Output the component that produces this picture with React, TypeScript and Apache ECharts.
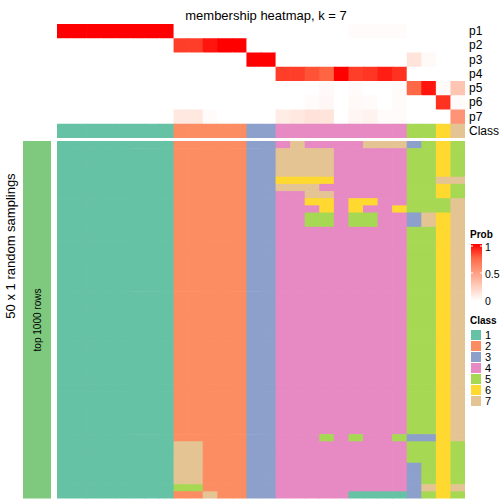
import React, { useEffect, useRef } from 'react';
import * as echarts from 'echarts';

const FONT = '"Liberation Sans", Arial, Helvetica, sans-serif';

const columns = Array.from({ length: 28 }, (_, i) => String(i + 1));
const topRowLabels = ['p1', 'p2', 'p3', 'p4', 'p5', 'p6', 'p7', 'Class'];
const classLabels = ['1', '2', '3', '4', '5', '6', '7'];
const classColors = ['#66C2A5', '#FC8D62', '#8DA0CB', '#E78AC3', '#A6D854', '#FFD92F', '#E5C494'];
const probColors = ['#FFFFFF', '#FFCFBF', '#FF9E81', '#FF6846', '#FF0000'];
const probTicks = ['1', '0.5', '0'];

// membership probabilities, 28 columns each
const p1 = [1, 1, 1, 1, 1, 1, 1, 1, 0, 0, 0, 0, 0, 0, 0, 0, 0, 0, 0, 0, 0.02, 0.02, 0.02, 0.02, 0, 0, 0, 0];
const p2 = [0, 0, 0, 0, 0, 0, 0, 0, 0.85, 0.85, 0.95, 1, 1, 0, 0, 0, 0, 0, 0, 0, 0, 0, 0, 0, 0, 0, 0, 0];
const p3 = [0, 0, 0, 0, 0, 0, 0, 0, 0, 0, 0, 0, 0, 1, 1, 0, 0, 0, 0, 0, 0, 0, 0, 0, 0.14, 0.03, 0, 0];
const p4 = [0, 0, 0, 0, 0, 0, 0, 0, 0, 0, 0, 0, 0, 0, 0, 0.85, 0.85, 0.8, 0.76, 1, 0.85, 0.87, 0.93, 0.88, 0, 0, 0, 0];
const p5 = [0, 0, 0, 0, 0, 0, 0, 0, 0, 0, 0, 0, 0, 0, 0, 0, 0, 0, 0.03, 0, 0.02, 0, 0, 0.02, 0.75, 0.95, 0.03, 0.3];
const p6 = [0, 0, 0, 0, 0, 0, 0, 0, 0, 0, 0, 0, 0, 0, 0, 0, 0, 0.02, 0.04, 0, 0.03, 0.02, 0, 0.02, 0, 0, 0.88, 0.02];
const p7 = [0, 0, 0, 0, 0, 0, 0, 0, 0.12, 0.12, 0.02, 0, 0, 0, 0, 0.1, 0.12, 0.15, 0.14, 0, 0.05, 0.06, 0.02, 0.02, 0, 0, 0, 0.55];
const topClass = [1, 1, 1, 1, 1, 1, 1, 1, 2, 2, 2, 2, 2, 3, 3, 4, 4, 4, 4, 4, 4, 4, 4, 4, 5, 5, 6, 7];

// class assignment of each of 50 samplings (rows) for the 28 columns
const samplings = [
  '1111111122222334744447773565',
  '1111111122222337777444445565',
  '1111111122222337777444445565',
  '1111111122222337777444445565',
  '1111111122222337777444445565',
  '1111111122222336666444445577',
  '1111111122222337774444445565',
  '1111111122222334477444445565',
  '1111111122222334466466445557',
  '1111111122222334446464465557',
  '1111111122222334455455443767',
  '1111111122222334455455443767',
  '1111111122222334444444445567',
  '1111111122222334444444445567',
  '1111111122222334444444445567',
  '1111111122222334444444445567',
  '1111111122222334444444445567',
  '1111111122222334444444445567',
  '1111111122222334444444445567',
  '1111111122222334444444445567',
  '1111111122222334444444445567',
  '1111111122222334444444445567',
  '1111111122222334444444445567',
  '1111111122222334444444445567',
  '1111111122222334444444445567',
  '1111111122222334444444445567',
  '1111111122222334444444445567',
  '1111111122222334444444445567',
  '1111111122222334444444445567',
  '1111111122222334444444445567',
  '1111111122222334444444445567',
  '1111111122222334444444445567',
  '1111111122222334444444445567',
  '1111111122222334444444445567',
  '1111111122222334444444445567',
  '1111111122222334444444445567',
  '1111111122222334444444445567',
  '1111111122222334444444445567',
  '1111111122222334444444445567',
  '1111111122222334444444445567',
  '1111111122222334444444445567',
  '1111111122222334445454453367',
  '1111111177222334444444445565',
  '1111111177222334444444445565',
  '1111111177222334444444445565',
  '1111111177222334444444443565',
  '1111111177222334444444443565',
  '1111111177222334444444443565',
  '1111111155222334444444443767',
  '1111111122722334444411113565',
];

export default function App() {
  const ref = useRef<HTMLDivElement>(null);

  useEffect(() => {
    if (!ref.current) return;
    const chart = echarts.init(ref.current, null, { renderer: 'svg' });

    const probs = [p1, p2, p3, p4, p5, p6, p7];
    const probData: number[][] = [];
    probs.forEach((row, r) => row.forEach((v, c) => probData.push([c, r, v])));
    const classRowData = topClass.map((v, c) => [c, 7, v]);
    const rowNames = samplings.map((_, i) => String(i + 1));
    const bottomData: number[][] = [];
    samplings.forEach((s, r) => s.split('').forEach((ch, c) => bottomData.push([c, r, Number(ch)])));

    const gridLeft = 57;
    const gridWidth = 408;
    const lastCol = columns.length - 1;

    const makeRender = (lastRow: number) => (params: any, api: any) => {
      const cx = api.value(0);
      const cy = api.value(1);
      const p = api.coord([cx, cy]);
      const s = api.size([1, 1]);
      const ox = cx < lastCol ? 0.7 : 0;
      const oy = cy < lastRow ? 0.7 : 0;
      return {
        type: 'rect',
        shape: { x: p[0] - s[0] / 2, y: p[1] - s[1] / 2, width: s[0] + ox, height: s[1] + oy },
        style: { fill: api.visual('color') },
      };
    };

    const graphics: any[] = [
      { type: 'rect', shape: { x: 23, y: 141, width: 28, height: 357.5 }, style: { fill: '#7FC97F' }, silent: true },
      {
        type: 'text', x: 37, y: 320, rotation: Math.PI / 2,
        style: { text: 'top 1000 rows', font: `10px ${FONT}`, fill: '#000', align: 'center', verticalAlign: 'middle' },
      },
      {
        type: 'text', x: 10, y: 246, rotation: Math.PI / 2,
        style: { text: '50 x 1 random samplings', font: `13px ${FONT}`, fill: '#000', align: 'center', verticalAlign: 'middle' },
      },
      { type: 'text', x: 470, y: 234, style: { text: 'Prob', font: `bold 10px ${FONT}`, fill: '#000', verticalAlign: 'middle' } },
      {
        type: 'rect', shape: { x: 471, y: 244, width: 11, height: 57 },
        style: {
          fill: new echarts.graphic.LinearGradient(0, 0, 0, 1, probColors.slice().reverse().map((c, i) => ({ offset: i / (probColors.length - 1), color: c }))),
        },
      },
      { type: 'text', x: 470, y: 320, style: { text: 'Class', font: `bold 10px ${FONT}`, fill: '#000', verticalAlign: 'middle' } },
    ];
    const tickY = [246, 273, 300.5];
    probTicks.forEach((t, i) => {
      graphics.push({ type: 'line', shape: { x1: 471, y1: tickY[i], x2: 473, y2: tickY[i] }, style: { stroke: '#fff', lineWidth: 1 } });
      graphics.push({ type: 'line', shape: { x1: 480, y1: tickY[i], x2: 482, y2: tickY[i] }, style: { stroke: '#fff', lineWidth: 1 } });
      graphics.push({ type: 'text', x: 485, y: tickY[i] + 0.5, style: { text: t, font: `10.5px ${FONT}`, fill: '#000', verticalAlign: 'middle' } });
    });
    classLabels.forEach((lab, i) => {
      const y = 330 + i * 11;
      graphics.push({ type: 'rect', shape: { x: 471, y, width: 10, height: 10 }, style: { fill: classColors[i] } });
      graphics.push({ type: 'text', x: 485, y: y + 5, style: { text: lab, font: `11px ${FONT}`, fill: '#000', verticalAlign: 'middle' } });
    });

    const hidden = { show: false };
    chart.setOption({
      animation: false,
      title: {
        text: 'membership heatmap, k = 7', left: 261, top: 4, textAlign: 'center',
        textStyle: { fontFamily: FONT, fontSize: 13, fontWeight: 'normal', color: '#000' },
      },
      grid: [
        { left: gridLeft, top: 24, width: gridWidth, height: 114 },
        { left: gridLeft, top: 141, width: gridWidth, height: 357.5 },
      ],
      xAxis: [
        { type: 'category', gridIndex: 0, data: columns, axisLine: hidden, axisTick: hidden, axisLabel: hidden, splitLine: hidden },
        { type: 'category', gridIndex: 1, data: columns, axisLine: hidden, axisTick: hidden, axisLabel: hidden, splitLine: hidden },
      ],
      yAxis: [
        {
          type: 'category', gridIndex: 0, data: topRowLabels, inverse: true, position: 'right',
          axisLine: hidden, axisTick: hidden, splitLine: hidden,
          axisLabel: { show: true, interval: 0, margin: 4, fontSize: 12, fontFamily: FONT, color: '#000' },
        },
        { type: 'category', gridIndex: 1, data: rowNames, inverse: true, axisLine: hidden, axisTick: hidden, axisLabel: hidden, splitLine: hidden },
      ],
      visualMap: [
        { type: 'continuous', show: false, seriesIndex: 0, min: 0, max: 1, dimension: 2, inRange: { color: probColors } },
        {
          type: 'piecewise', show: false, seriesIndex: [1, 2], dimension: 2,
          pieces: classColors.map((c, i) => ({ value: i + 1, color: c })),
        },
      ],
      series: [
        {
          type: 'custom', xAxisIndex: 0, yAxisIndex: 0, data: probData, encode: { x: 0, y: 1 },
          renderItem: makeRender(7), silent: true,
        },
        {
          type: 'custom', xAxisIndex: 0, yAxisIndex: 0, data: classRowData, encode: { x: 0, y: 1 },
          renderItem: makeRender(7), silent: true,
        },
        {
          type: 'custom', xAxisIndex: 1, yAxisIndex: 1, data: bottomData, encode: { x: 0, y: 1 },
          renderItem: makeRender(rowNames.length - 1), silent: true,
        },
      ],
      graphic: graphics,
    });

    return () => chart.dispose();
  }, []);

  return <div ref={ref} style={{ position: 'fixed', left: 0, top: 0, width: 504, height: 504, background: '#fff' }} />;
}
